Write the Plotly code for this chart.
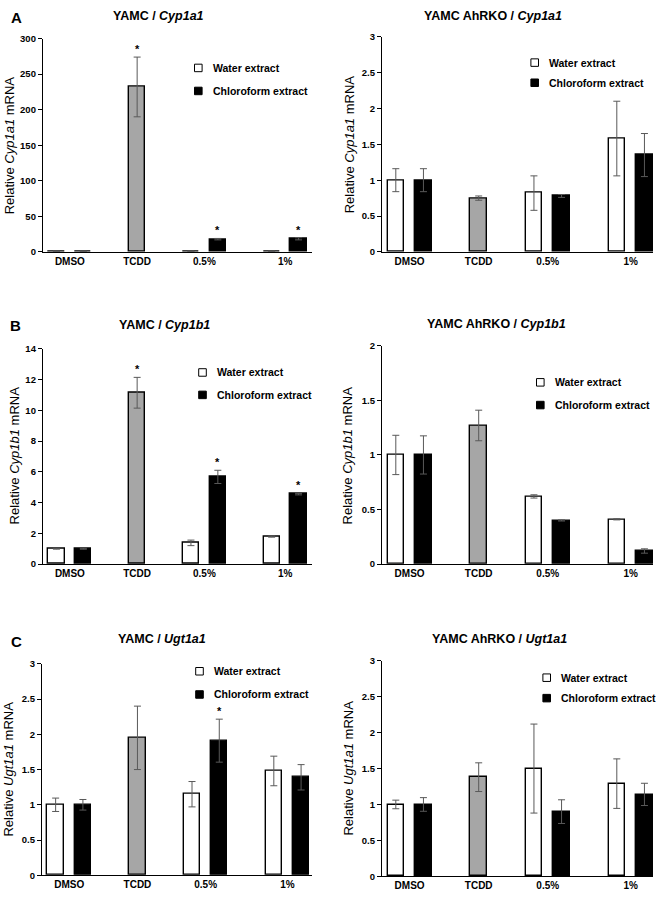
import plotly.graph_objects as go

W, H = 663, 900
FONT = "Liberation Sans, Arial, Helvetica, sans-serif"

categories = ["DMSO", "TCDD", "0.5%", "1%"]

# ---- A left: YAMC / Cyp1a1
yamc_cyp1a1_water = [1.0, None, 1.0, 1.0]
yamc_cyp1a1_water_err = [0.2, None, 0.2, 0.2]
yamc_cyp1a1_chloro = [1.0, None, 18.0, 18.5]
yamc_cyp1a1_chloro_err = [0.2, None, 1.0, 1.5]
yamc_cyp1a1_tcdd = [None, 232.0, None, None]
yamc_cyp1a1_tcdd_err = [None, 42.0, None, None]
yamc_cyp1a1_stars = [("tcdd", "TCDD"), ("chloro", "0.5%"), ("chloro", "1%")]

# ---- A right: YAMC AhRKO / Cyp1a1
ahrko_cyp1a1_water = [1.0, None, 0.82, 1.58]
ahrko_cyp1a1_water_err = [0.16, None, 0.24, 0.52]
ahrko_cyp1a1_chloro = [1.0, None, 0.78, 1.35]
ahrko_cyp1a1_chloro_err = [0.16, None, 0.02, 0.30]
ahrko_cyp1a1_tcdd = [None, 0.75, None, None]
ahrko_cyp1a1_tcdd_err = [None, 0.03, None, None]
ahrko_cyp1a1_stars = []

# ---- B left: YAMC / Cyp1b1
yamc_cyp1b1_water = [1.0, None, 1.38, 1.79]
yamc_cyp1b1_water_err = [0.03, None, 0.18, 0.04]
yamc_cyp1b1_chloro = [1.0, None, 5.67, 4.55]
yamc_cyp1b1_chloro_err = [0.03, None, 0.43, 0.05]
yamc_cyp1b1_tcdd = [None, 11.14, None, None]
yamc_cyp1b1_tcdd_err = [None, 1.0, None, None]
yamc_cyp1b1_stars = [("tcdd", "TCDD"), ("chloro", "0.5%"), ("chloro", "1%")]

# ---- B right: YAMC AhRKO / Cyp1b1
ahrko_cyp1b1_water = [1.0, None, 0.62, 0.41]
ahrko_cyp1b1_water_err = [0.18, None, 0.015, 0.005]
ahrko_cyp1b1_chloro = [1.0, None, 0.40, 0.12]
ahrko_cyp1b1_chloro_err = [0.175, None, 0.005, 0.02]
ahrko_cyp1b1_tcdd = [None, 1.27, None, None]
ahrko_cyp1b1_tcdd_err = [None, 0.14, None, None]
ahrko_cyp1b1_stars = []

# ---- C left: YAMC / Ugt1a1
yamc_ugt1a1_water = [1.0, None, 1.15, 1.48]
yamc_ugt1a1_water_err = [0.095, None, 0.18, 0.21]
yamc_ugt1a1_chloro = [1.0, None, 1.91, 1.39]
yamc_ugt1a1_chloro_err = [0.075, None, 0.305, 0.18]
yamc_ugt1a1_tcdd = [None, 1.95, None, None]
yamc_ugt1a1_tcdd_err = [None, 0.45, None, None]
yamc_ugt1a1_stars = [("chloro", "0.5%")]

# ---- C right: YAMC AhRKO / Ugt1a1
ahrko_ugt1a1_water = [1.0, None, 1.50, 1.29]
ahrko_ugt1a1_water_err = [0.06, None, 0.62, 0.345]
ahrko_ugt1a1_chloro = [1.0, None, 0.90, 1.14]
ahrko_ugt1a1_chloro_err = [0.095, None, 0.165, 0.155]
ahrko_ugt1a1_tcdd = [None, 1.38, None, None]
ahrko_ugt1a1_tcdd_err = [None, 0.20, None, None]
ahrko_ugt1a1_stars = []

legend_labels = ["Water extract", "Chloroform extract"]

# ---------------- layout geometry (pixels) ----------------
group_pos = [1.0, 3.5, 6.0, 9.0]
pair_off = 0.5
bar_w = 0.6

panels = [
    dict(cell="YAMC", gene="Cyp1a1", letter="A",
         water=yamc_cyp1a1_water, water_err=yamc_cyp1a1_water_err,
         chloro=yamc_cyp1a1_chloro, chloro_err=yamc_cyp1a1_chloro_err,
         tcdd=yamc_cyp1a1_tcdd, tcdd_err=yamc_cyp1a1_tcdd_err, stars=yamc_cyp1a1_stars,
         ymax=300, dtick=50, dom=(43, 312, 33, 249), xmax=10.0,
         title=(158.5, 10.5), ylab=(9, 141), leg=(198.3, 62.7, 86.0), let=(16, 12)),
    dict(cell="YAMC AhRKO", gene="Cyp1a1", letter=None,
         water=ahrko_cyp1a1_water, water_err=ahrko_cyp1a1_water_err,
         chloro=ahrko_cyp1a1_chloro, chloro_err=ahrko_cyp1a1_chloro_err,
         tcdd=ahrko_cyp1a1_tcdd, tcdd_err=ahrko_cyp1a1_tcdd_err, stars=ahrko_cyp1a1_stars,
         ymax=3, dtick=0.5, dom=(382, 653, 31, 249), xmax=9.81,
         title=(493.3, 10.5), ylab=(349, 140), leg=(534.7, 57.3, 77.7), let=None),
    dict(cell="YAMC", gene="Cyp1b1", letter="B",
         water=yamc_cyp1b1_water, water_err=yamc_cyp1b1_water_err,
         chloro=yamc_cyp1b1_chloro, chloro_err=yamc_cyp1b1_chloro_err,
         tcdd=yamc_cyp1b1_tcdd, tcdd_err=yamc_cyp1b1_tcdd_err, stars=yamc_cyp1b1_stars,
         ymax=14, dtick=2, dom=(43, 312, 347, 565), xmax=10.0,
         title=(164.5, 322.5), ylab=(14, 455), leg=(202.5, 371.0, 393.7), let=(15.5, 323)),
    dict(cell="YAMC AhRKO", gene="Cyp1b1", letter=None,
         water=ahrko_cyp1b1_water, water_err=ahrko_cyp1b1_water_err,
         chloro=ahrko_cyp1b1_chloro, chloro_err=ahrko_cyp1b1_chloro_err,
         tcdd=ahrko_cyp1b1_tcdd, tcdd_err=ahrko_cyp1b1_tcdd_err, stars=ahrko_cyp1b1_stars,
         ymax=2, dtick=0.5, dom=(382, 653, 344, 565), xmax=9.81,
         title=(496.3, 321.5), ylab=(347, 455), leg=(540.3, 381.0, 404.0), let=None),
    dict(cell="YAMC", gene="Ugt1a1", letter="C",
         water=yamc_ugt1a1_water, water_err=yamc_ugt1a1_water_err,
         chloro=yamc_ugt1a1_chloro, chloro_err=yamc_ugt1a1_chloro_err,
         tcdd=yamc_ugt1a1_tcdd, tcdd_err=yamc_ugt1a1_tcdd_err, stars=yamc_ugt1a1_stars,
         ymax=3, dtick=0.5, dom=(42, 312, 666, 880), xmax=9.9,
         title=(161.7, 641), ylab=(9, 773), leg=(199.5, 673.5, 697.0), let=(16, 643)),
    dict(cell="YAMC AhRKO", gene="Ugt1a1", letter=None,
         water=ahrko_ugt1a1_water, water_err=ahrko_ugt1a1_water_err,
         chloro=ahrko_ugt1a1_chloro, chloro_err=ahrko_ugt1a1_chloro_err,
         tcdd=ahrko_ugt1a1_tcdd, tcdd_err=ahrko_ugt1a1_tcdd_err, stars=ahrko_ugt1a1_stars,
         ymax=3, dtick=0.5, dom=(382, 653, 663, 881), xmax=9.81,
         title=(499, 641), ylab=(349, 772), leg=(546.7, 680.0, 700.7), let=None),
]

def px(xp):
    return xp / W

def py(yp):
    return 1 - yp / H

ERR = dict(type="data", color="#595959", thickness=1, width=3.5, visible=True)
series_style = {
    "water": dict(color="white", off=-pair_off),
    "chloro": dict(color="black", off=pair_off),
    "tcdd": dict(color="#a6a6a6", off=0.0),
}

fig = go.Figure()
annotations = []
shapes = []
layout_axes = {}

for i, p in enumerate(panels, start=1):
    xa = "x" if i == 1 else f"x{i}"
    ya = "y" if i == 1 else f"y{i}"
    for key in ["water", "chloro", "tcdd"]:
        vals, errs = p[key], p[key + "_err"]
        st = series_style[key]
        xs, ys, es = [], [], []
        for j, v in enumerate(vals):
            if v is None:
                continue
            xs.append(group_pos[j] + st["off"])
            ys.append(v)
            es.append(errs[j])
        fig.add_trace(go.Bar(
            x=xs, y=ys, width=bar_w, xaxis=xa, yaxis=ya, showlegend=False,
            marker=dict(color=st["color"], line=dict(color="black", width=1.4)),
            error_y=dict(array=es, **ERR), hoverinfo="y",
        ))
    # significance stars
    for key, cat in p["stars"]:
        j = categories.index(cat)
        v = p[key][j] + p[key + "_err"][j]
        annotations.append(dict(
            xref=xa, yref=ya, x=group_pos[j] + series_style[key]["off"], y=v,
            text="<b>*</b>", showarrow=False, yanchor="bottom", yshift=0,
            font=dict(family=FONT, size=11, color="black")))

    x0, x1, y0, y1 = p["dom"]
    axn = "" if i == 1 else str(i)
    layout_axes["xaxis" + axn] = dict(
        domain=[px(x0), px(x1)], range=[0, p["xmax"]], anchor=ya,
        showline=True, linecolor="black", linewidth=1.3, showgrid=False, zeroline=False,
        ticks="", tickvals=group_pos, ticktext=categories,
        tickfont=dict(family=FONT, size=10, color="black", weight="bold"),
        fixedrange=True)
    layout_axes["yaxis" + axn] = dict(
        domain=[py(y1), py(y0)], range=[0, p["ymax"]], anchor=xa, dtick=p["dtick"],
        tick0=0, showline=True, linecolor="black", linewidth=1.3, showgrid=False,
        zeroline=False, ticks="outside", ticklen=4, tickwidth=1.3, tickcolor="black",
        tickfont=dict(family=FONT, size=9.5, color="black", weight="bold"),
        fixedrange=True)

    # title
    tx, ty = p["title"]
    annotations.append(dict(
        xref="paper", yref="paper", x=px(tx), y=py(ty), xanchor="center", yanchor="middle",
        text=f"<b>{p['cell']} / <i>{p['gene']}</i></b>", showarrow=False,
        font=dict(family=FONT, size=12.5, color="black")))
    # y label
    lx, ly = p["ylab"]
    annotations.append(dict(
        xref="paper", yref="paper", x=px(lx), y=py(ly), xanchor="center", yanchor="middle",
        text=f"Relative <i>{p['gene']}</i> mRNA", textangle=-90, showarrow=False,
        font=dict(family=FONT, size=13, color="black")))
    # panel letter
    if p["let"] is not None:
        ax_, ay_ = p["let"]
        annotations.append(dict(
            xref="paper", yref="paper", x=px(ax_), y=py(ay_), xanchor="center",
            yanchor="middle", text=f"<b>{p['letter']}</b>", showarrow=False,
            font=dict(family=FONT, size=15, color="black")))
    # legend (swatches + labels)
    sx, sy1, sy2 = p["leg"]
    half = 3.8
    for sy, fill, lab in [(sy1, "white", legend_labels[0]), (sy2, "black", legend_labels[1])]:
        shapes.append(dict(
            type="rect", xref="paper", yref="paper",
            x0=px(sx - half), x1=px(sx + half), y0=py(sy + half), y1=py(sy - half),
            fillcolor=fill, line=dict(color="black", width=1)))
        annotations.append(dict(
            xref="paper", yref="paper", x=px(sx + 12.5), y=py(sy), xanchor="left",
            yanchor="middle", text=f"<b>{lab}</b>", showarrow=False,
            font=dict(family=FONT, size=10.5, color="black")))

fig.update_layout(
    width=W, height=H, margin=dict(l=0, r=0, t=0, b=0),
    paper_bgcolor="white", plot_bgcolor="white",
    barmode="overlay", bargap=0,
    annotations=annotations, shapes=shapes,
    font=dict(family=FONT, color="black"),
    **layout_axes,
)

fig.write_html(
    "out.html",
    config={"displayModeBar": False},
    post_script="document.body.style.margin='0';document.body.style.overflow='hidden';",
)
